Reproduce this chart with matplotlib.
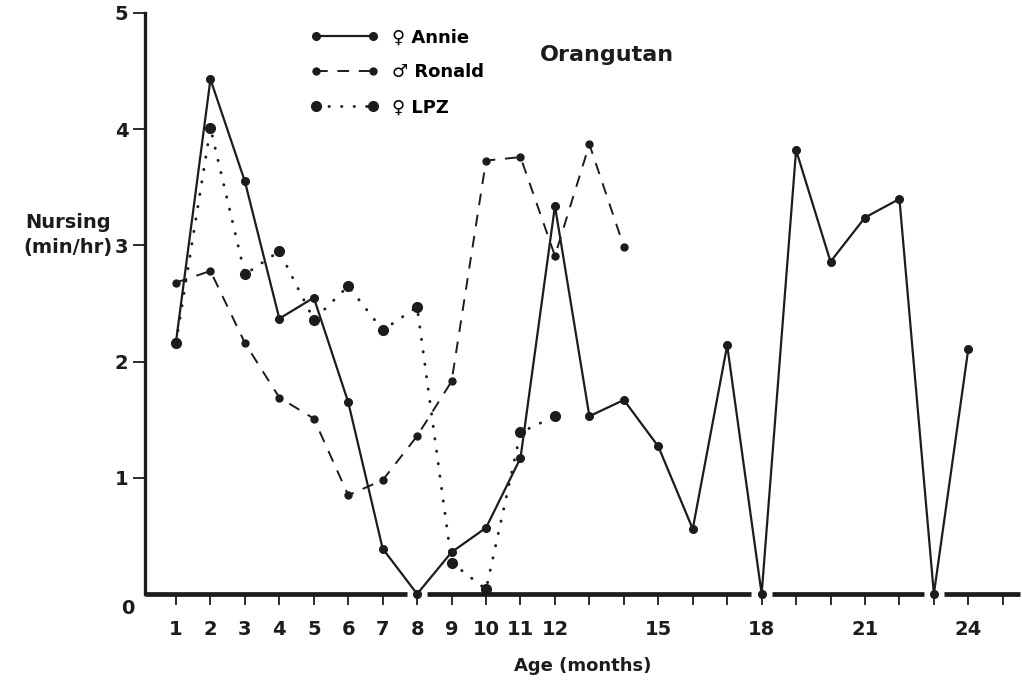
import matplotlib.pyplot as plt
import numpy as np

# Nursing time (min/hr) by age in months, one series per infant
annie_months = np.arange(1, 25)
annie = [2.17, 4.43, 3.55, 2.37, 2.55, 1.65, 0.39, 0.0, 0.36, 0.57, 1.17, 3.34,
         1.53, 1.67, 1.27, 0.56, 2.14, 0.0, 3.82, 2.86, 3.24, 3.40, 0.0, 2.11]
ronald_months = np.arange(1, 15)
ronald = [2.68, 2.78, 2.16, 1.69, 1.51, 0.85, 0.98, 1.36, 1.83, 3.73, 3.76,
          2.91, 3.87, 2.99]
lpz_months = np.arange(1, 13)
lpz = [2.16, 4.01, 2.75, 2.95, 2.36, 2.65, 2.27, 2.47, 0.27, 0.04, 1.39, 1.53]

x_ticks = np.arange(1, 26)
x_labels = {m: str(m) for m in list(range(1, 13)) + [15, 18, 21, 24]}
y_ticks = [1, 2, 3, 4, 5]

plt.rcParams["font.family"] = "DejaVu Sans"
plt.rcParams["font.weight"] = "bold"

fig = plt.figure(figsize=(10.22, 6.84), dpi=100)
ax = fig.add_axes([145 / 1022, 90 / 684, 875 / 1022, 581 / 684])

ink = "#1c1c1c"
ax.plot(annie_months, annie, "-", color=ink, lw=1.6, marker="o", ms=5.5,
        clip_on=False, label="\u2640 Annie")
ax.plot(ronald_months, ronald, color=ink, lw=1.4, ls=(0, (6, 5)), marker="o",
        ms=5, clip_on=False, label="\u2642 Ronald")
ax.plot(lpz_months, lpz, color=ink, lw=2.1, ls=(0, (0.1, 4.2)),
        dash_capstyle="round", marker="o", ms=7, clip_on=False,
        label="\u2640 LPZ")

ax.set_xlim(0.1, 25.5)
ax.set_ylim(0, 5)

# baseline broken where Annie's nursing drops to zero
for side in ["top", "right", "bottom"]:
    ax.spines[side].set_visible(False)
ax.spines["left"].set_linewidth(2.4)
ax.spines["left"].set_color(ink)
zero_months = [m for m, v in zip(annie_months, annie) if v == 0 and m > 1]
edges = [0.1]
for m in zero_months:
    edges += [m - 0.3, m + 0.3]
edges.append(25.5)
for x0, x1 in zip(edges[::2], edges[1::2]):
    ax.plot([x0, x1], [0, 0], color=ink, lw=3.4, solid_capstyle="butt",
            clip_on=False, zorder=1)

ax.set_xticks(x_ticks)
ax.set_xticklabels([x_labels.get(m, "") for m in x_ticks], fontsize=14)
ax.tick_params(axis="x", direction="out", length=8, width=1.3, pad=11,
               colors=ink)
ax.set_yticks(y_ticks)
ax.set_yticklabels([str(v) for v in y_ticks], fontsize=14)
ax.tick_params(axis="y", direction="out", length=9, width=1.3, pad=3,
               colors=ink)
ax.text(-0.39, -0.025, "0", fontsize=14, ha="center", va="center", color=ink,
        transform=ax.get_xaxis_transform())

ax.set_xlabel("Age (months)", fontsize=13, fontweight="bold", labelpad=13,
              color=ink)
fig.text(68 / 1022, 1 - 222 / 684, "Nursing", fontsize=14, fontweight="bold",
         ha="center", va="center", color=ink)
fig.text(68 / 1022, 1 - 247 / 684, "(min/hr)", fontsize=14, fontweight="bold",
         ha="center", va="center", color=ink)

ax.legend(loc="upper left", bbox_to_anchor=(294 / 1022, 1 - 12 / 684),
          bbox_transform=fig.transFigure, frameon=False, numpoints=2,
          handlelength=3.8, fontsize=13, labelspacing=0.95, handletextpad=0.7)
fig.text(540 / 1022, 1 - 55 / 684, "Orangutan", fontsize=16, va="center",
         color=ink)

fig.savefig("out.png", dpi=100)
